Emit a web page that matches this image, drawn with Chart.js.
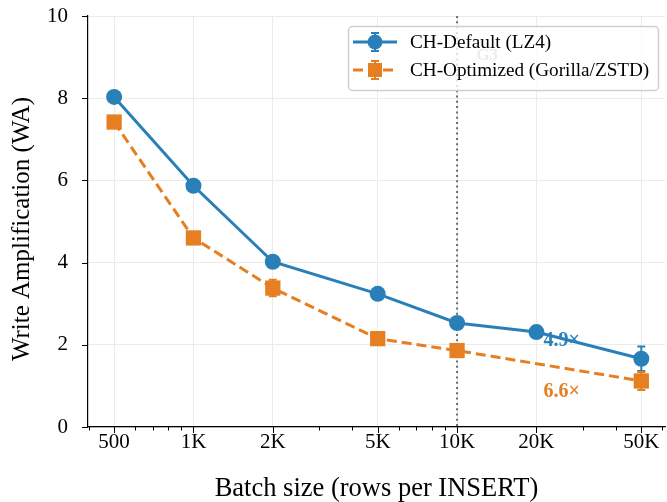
<!DOCTYPE html>
<html><head><meta charset="utf-8">
<script src="https://cdn.jsdelivr.net/npm/chart.js@4.4.1/dist/chart.umd.min.js"></script>
<style>html,body{margin:0;padding:0;background:#fff;}#wrap{width:667px;height:502px;position:relative;}</style>
</head><body><div id="wrap"><canvas id="c" width="667" height="502"></canvas></div>
<script>
// ---- data ----
const batchSizes   = [500, 1000, 2000, 5000, 10000, 20000, 50000];
const tickLabels   = ['500', '1K', '2K', '5K', '10K', '20K', '50K'];
const minorTicks   = [400, 600, 700, 800, 900, 3000, 4000, 6000, 7000, 8000, 9000, 30000, 40000, 60000];
const defaultWA    = [8.03, 5.87, 4.02, 3.24, 2.53, 2.31, 1.66];
const defaultErr   = [0.05, 0.06, 0.05, 0.05, 0.05, 0.05, 0.30];
const optimizedWA  = [7.42, 4.60, 3.38, 2.15, 1.86, null, 1.12];
const optimizedErr = [0.06, 0.08, 0.20, 0.06, 0.05, null, 0.22];
const yTicks       = [0, 2, 4, 6, 8, 10];
const seriesLabels = ['CH-Default (LZ4)', 'CH-Optimized (Gorilla/ZSTD)'];
const ratioLabels  = ['4.9×', '6.6×'];
const ratioX       = [21300, 21300];
const ratioY       = [2.09, 0.86];
const markerLineX  = 10000;
const markerText   = 'G3';
const markerTextX  = 13000;
const markerTextY  = 9.03;
const xTitle = 'Batch size (rows per INSERT)';
const yTitle = 'Write Amplification (WA)';

// ---- style ----
const BLUE = '#2980b9', ORANGE = '#e67e22';
const SERIF = '"Liberation Serif","Times New Roman",Times,serif';
const toPts = ys => batchSizes.map((x, i) => ({x: x, y: ys[i]}));

const errorBars = {
  id: 'errorBars',
  beforeDatasetDraw(chart, args) {
    const ds = chart.data.datasets[args.index];
    const meta = args.meta;
    const ys = chart.scales.y, ctx = chart.ctx;
    ctx.save();
    ctx.strokeStyle = ds.borderColor; ctx.lineWidth = 2;
    meta.data.forEach((pt, i) => {
      const v = ds.data[i].y, e = ds.errors[i];
      if (v == null || e == null) return;
      const t = ys.getPixelForValue(v + e), b = ys.getPixelForValue(v - e), x = pt.x;
      ctx.beginPath();
      ctx.moveTo(x, t); ctx.lineTo(x, b);
      ctx.moveTo(x - 4, t); ctx.lineTo(x + 4, t);
      ctx.moveTo(x - 4, b); ctx.lineTo(x + 4, b);
      ctx.stroke();
    });
    ctx.restore();
  }
};

const decor = {
  id: 'decor',
  beforeDatasetsDraw(chart) {
    const {ctx, chartArea: a, scales: {x, y}} = chart;
    ctx.save();
    ctx.strokeStyle = '#000'; ctx.lineWidth = 1;
    x.ticks.forEach(t => {
      const px = Math.round(x.getPixelForValue(t.value)) + 0.5;
      const len = t.major ? 6 : 3.5;
      ctx.beginPath(); ctx.moveTo(px, a.bottom); ctx.lineTo(px, a.bottom + len); ctx.stroke();
    });
    y.ticks.forEach(t => {
      const py = Math.round(y.getPixelForValue(t.value)) + 0.5;
      ctx.beginPath(); ctx.moveTo(a.left, py); ctx.lineTo(a.left - 6, py); ctx.stroke();
    });
    const vx = x.getPixelForValue(markerLineX);
    ctx.strokeStyle = '#6b6b6b'; ctx.lineWidth = 2; ctx.setLineDash([2, 3.3]);
    ctx.beginPath(); ctx.moveTo(vx, a.top); ctx.lineTo(vx, a.bottom); ctx.stroke();
    ctx.setLineDash([]);
    ctx.fillStyle = '#a0a0a0'; ctx.font = 'bold 17px ' + SERIF;
    ctx.textAlign = 'center'; ctx.textBaseline = 'middle';
    ctx.fillText(markerText, x.getPixelForValue(markerTextX), y.getPixelForValue(markerTextY));
    // ratio annotations (under the lines)
    ctx.font = 'bold 20px ' + SERIF; ctx.textAlign = 'left'; ctx.textBaseline = 'middle';
    [BLUE, ORANGE].forEach((c, i) => {
      ctx.fillStyle = c;
      ctx.fillText(ratioLabels[i], x.getPixelForValue(ratioX[i]), y.getPixelForValue(ratioY[i]));
    });
    // y axis title
    ctx.save();
    ctx.translate(22, 229); ctx.rotate(-Math.PI / 2);
    ctx.fillStyle = '#000'; ctx.font = '25px ' + SERIF; ctx.textAlign = 'center';
    ctx.fillText(yTitle, 0, 0);
    ctx.restore();
    ctx.restore();
  },
  afterDatasetsDraw(chart) {
    const ctx = chart.ctx;
    ctx.save();
    // legend
    const bx = 348.5, by = 26.5, bw = 310, bh = 64;
    ctx.beginPath();
    ctx.roundRect(bx, by, bw, bh, 4);
    ctx.fillStyle = 'rgba(255,255,255,0.8)'; ctx.fill();
    ctx.strokeStyle = '#d0d0d0'; ctx.lineWidth = 1.5; ctx.stroke();
    chart.data.datasets.forEach((ds, i) => {
      const cy = 42 + i * 28, x0 = 353, x1 = 397, cx = 375;
      ctx.strokeStyle = ds.borderColor; ctx.fillStyle = ds.borderColor;
      ctx.lineWidth = 3; ctx.setLineDash(ds.borderDash || []);
      ctx.beginPath(); ctx.moveTo(x0, cy); ctx.lineTo(x1, cy); ctx.stroke();
      ctx.setLineDash([]); ctx.lineWidth = 2;
      ctx.beginPath();
      ctx.moveTo(cx, cy - 9); ctx.lineTo(cx, cy + 9);
      ctx.moveTo(cx - 4, cy - 9); ctx.lineTo(cx + 4, cy - 9);
      ctx.moveTo(cx - 4, cy + 9); ctx.lineTo(cx + 4, cy + 9);
      ctx.stroke();
      if (ds.pointStyle === 'rect') ctx.fillRect(cx - 7, cy - 7, 14, 14);
      else { ctx.beginPath(); ctx.arc(cx, cy, 7.5, 0, Math.PI * 2); ctx.fill(); }
      ctx.fillStyle = '#000'; ctx.font = '19.2px ' + SERIF;
      ctx.textAlign = 'left'; ctx.textBaseline = 'middle';
      ctx.fillText(ds.label, 410, cy + 1);
    });
    ctx.restore();
  }
};

new Chart(document.getElementById('c'), {
  type: 'line',
  data: {
    datasets: [
      {label: seriesLabels[0], data: toPts(defaultWA), errors: defaultErr,
       borderColor: BLUE, backgroundColor: BLUE, borderWidth: 3,
       pointStyle: 'circle', pointRadius: 8, pointBorderWidth: 0, pointHoverRadius: 8,
       spanGaps: true, tension: 0, order: 2},
      {label: seriesLabels[1], data: toPts(optimizedWA), errors: optimizedErr,
       borderColor: ORANGE, backgroundColor: ORANGE, borderWidth: 3, borderDash: [10, 5],
       pointStyle: 'rect', pointRadius: 10.8, pointBorderWidth: 0, pointHoverRadius: 10.8,
       spanGaps: true, tension: 0, order: 1}
    ]
  },
  options: {
    responsive: false, animation: false, devicePixelRatio: 1,
    layout: {autoPadding: false, padding: {top: 16, right: 2, left: 0, bottom: 0}},
    plugins: {legend: {display: false}, tooltip: {enabled: false}},
    events: [],
    scales: {
      x: {
        type: 'logarithmic', min: 398, max: 61500,
        afterBuildTicks: s => {
          s.ticks = batchSizes.map(v => ({value: v, major: true}))
            .concat(minorTicks.map(v => ({value: v, major: false})))
            .sort((p, q) => p.value - q.value);
        },
        afterFit: s => { s.height = 75; s.paddingLeft = 0; s.paddingRight = 0; s.paddingTop = 0; s.paddingBottom = 0; },
        ticks: {
          autoSkip: false, maxRotation: 0, minRotation: 0, padding: 3, color: '#000',
          font: {family: SERIF, size: 21},
          callback: v => { const i = batchSizes.indexOf(v); return i >= 0 ? tickLabels[i] : ''; }
        },
        grid: {drawTicks: false, color: c => (c.tick && c.tick.major) ? '#ebebeb' : 'rgba(0,0,0,0)', lineWidth: 1},
        border: {display: true, color: '#000', width: 1.2},
        title: {display: true, text: xTitle, color: '#000',
                font: {family: SERIF, size: 26.5, lineHeight: 1.0}, padding: {top: 0, bottom: 0}}
      },
      y: {
        type: 'linear', min: 0, max: 10,
        afterBuildTicks: s => { s.ticks = yTicks.map(v => ({value: v})); },
        afterFit: s => { s.width = 88; s.paddingLeft = 0; s.paddingRight = 0; s.paddingTop = 0; s.paddingBottom = 0; },
        ticks: {padding: 20, color: '#000', font: {family: SERIF, size: 21}},
        grid: {drawTicks: false, color: '#ebebeb', lineWidth: 1},
        border: {display: true, color: '#000', width: 1.2},
        title: {display: false}
      }
    }
  },
  plugins: [errorBars, decor]
});
</script>
</body></html>
